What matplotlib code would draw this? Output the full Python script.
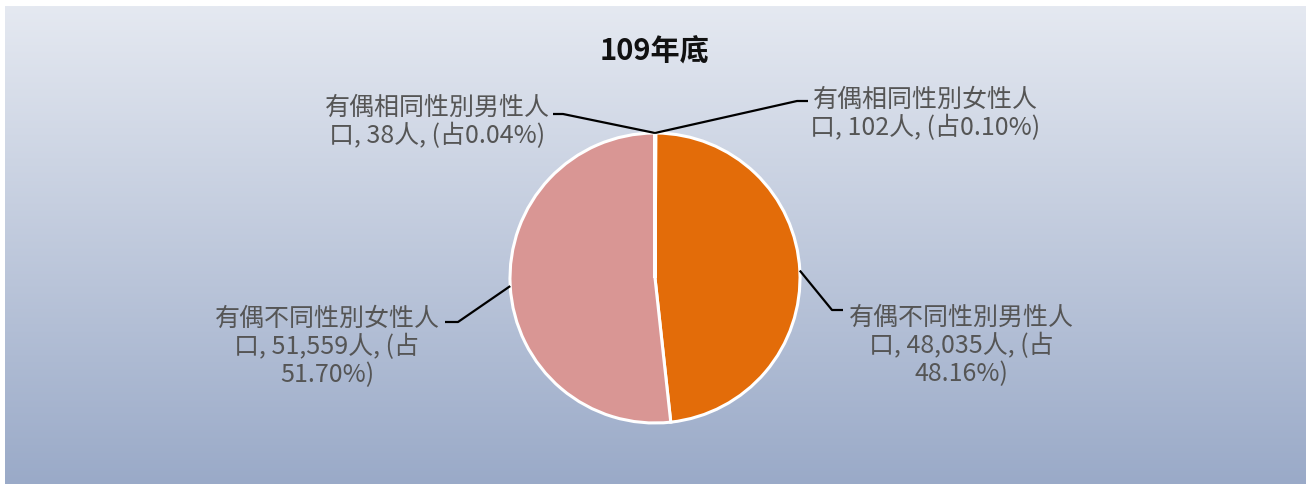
import numpy as np
import matplotlib
matplotlib.use("Agg")
import matplotlib.pyplot as plt

# ---- data ----
title = "109年底"
categories = ["有偶相同性別女性人口", "有偶不同性別男性人口", "有偶不同性別女性人口", "有偶相同性別男性人口"]
values = [102, 48035, 51559, 38]
percents = ["0.10%", "48.16%", "51.70%", "0.04%"]
colors = ["#7f9ccb", "#e36c09", "#d99694", "#9bbb59"]

plt.rcParams['font.family'] = ['Noto Sans CJK TC', 'DejaVu Sans']

W, H = 1306, 484
fig = plt.figure(figsize=(W / 100, H / 100), dpi=100)
fig.patch.set_facecolor("white")
ax = fig.add_axes([0, 0, 1, 1])
ax.set_xlim(0, W)
ax.set_ylim(0, H)
ax.axis("off")

def Y(y):
    return H - y

# background gradient
top = np.array([229, 233, 241]) / 255
bot = np.array([154, 170, 200]) / 255
t = np.linspace(0, 1, 256)[:, None, None]
grad = top * (1 - t) + bot * t
ax.imshow(grad, extent=[5, W, 0, Y(6)], aspect="auto", zorder=0, interpolation="bilinear")

cx, cy, R = 655, Y(278), 145
wedges, _ = ax.pie(values, colors=colors, startangle=90, counterclock=False,
                   center=(cx, cy), radius=R,
                   wedgeprops=dict(edgecolor="white", linewidth=2.2), frame=False)
for w in wedges:
    w.set_zorder(2)
ax.set_xlim(0, W)
ax.set_ylim(0, H)
ax.set_aspect("equal")

ax.text(655, Y(52), title, ha="center", va="center", fontsize=21, fontweight="bold",
        color="#111111", zorder=3)

# label layout: (text center x, text center y, elbow x, stub end x, stub y)
layout = [
    (925, 114, 797, 808, 101),
    (961, 346, 832, 843, 310),
    (327, 347, 458, 445, 322),
    (437, 122, 563, 553, 114),
]
breaks = [(9, False), (9, True), (9, True), (9, False)]

for i, w in enumerate(wedges):
    ang = np.deg2rad((w.theta1 + w.theta2) / 2)
    if values[i] < 500:
        ax_x, ax_y = cx, cy + R
    else:
        ax_x, ax_y = cx + R * np.cos(ang), cy + R * np.sin(ang)
    tx, ty, ex, sx, sy = layout[i]
    ax.plot([ax_x, ex, sx], [ax_y, Y(sy), Y(sy)], color="black", lw=1.6, zorder=3,
            solid_capstyle="butt")
    name = categories[i]
    n, third = breaks[i]
    l1 = name[:n]
    if third:
        lbl = f"{l1}\n{name[n:]}, {values[i]:,}人, (占\n{percents[i]})"
    else:
        lbl = f"{l1}\n{name[n:]}, {values[i]:,}人, (占{percents[i]})"
    ax.text(tx, Y(ty), lbl, ha="center", va="center", fontsize=18, color="#555555",
            linespacing=1.12, zorder=3)

fig.savefig("out.png", dpi=100, facecolor="white")
